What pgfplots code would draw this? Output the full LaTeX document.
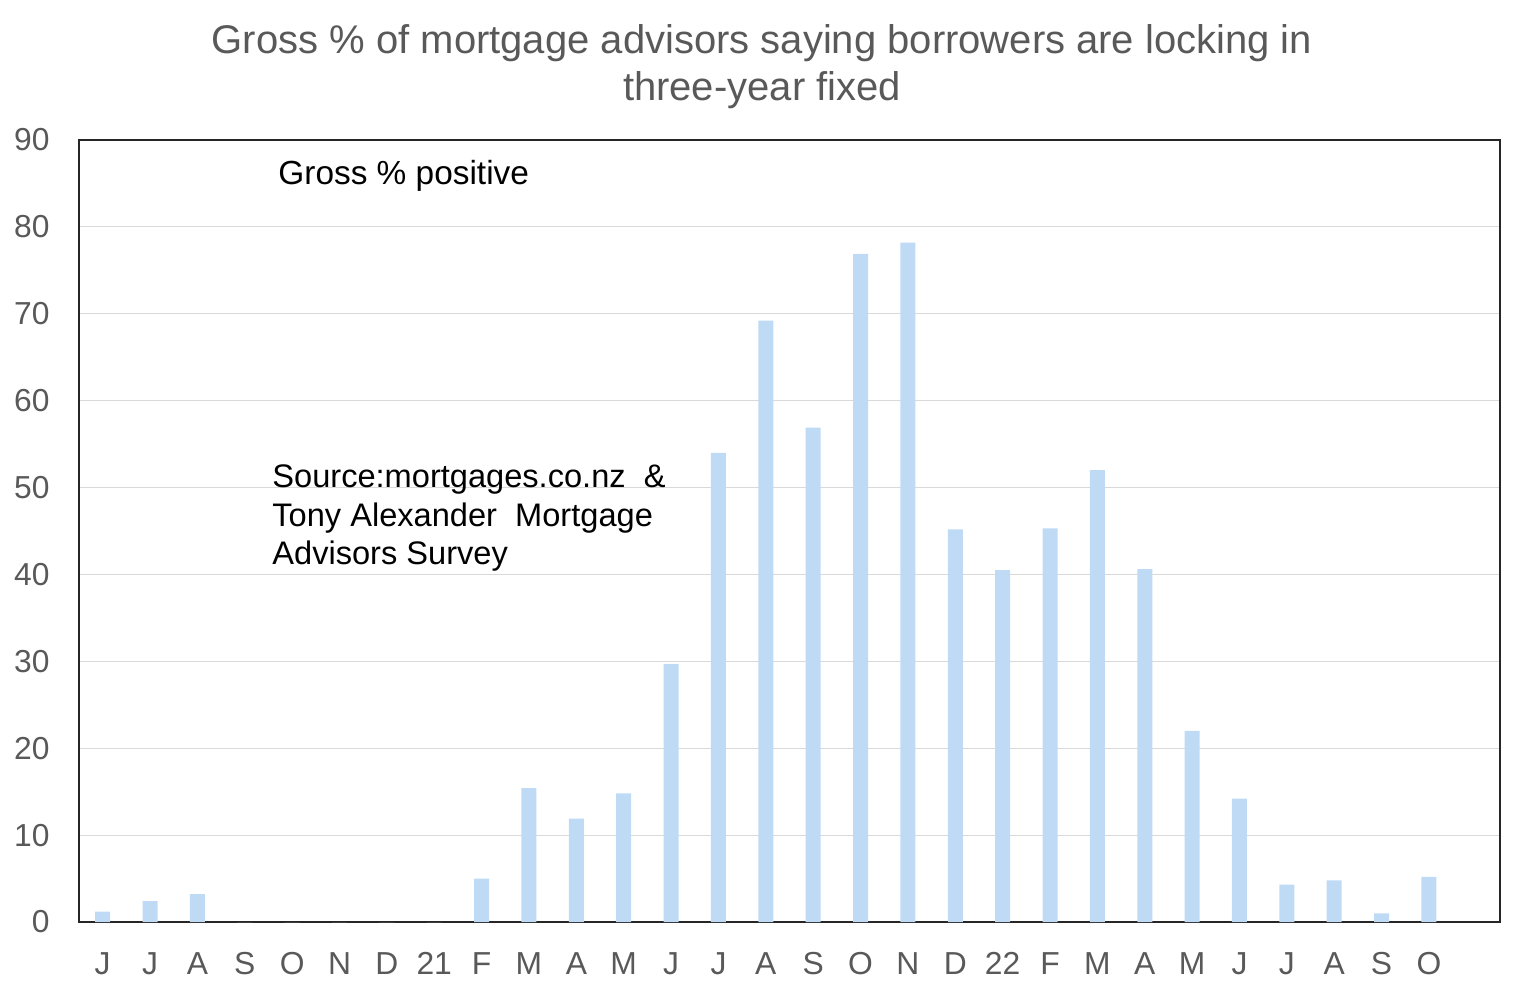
\documentclass[border=0pt]{standalone}
\usepackage{fontspec}
\setmainfont{Liberation Sans}
\usepackage{pgfplots}
\pgfplotsset{compat=1.18}
\definecolor{barblue}{RGB}{190,218,245}
\definecolor{txtgray}{RGB}{89,89,89}
\definecolor{gridgray}{RGB}{217,217,217}
\begin{document}
\begin{tikzpicture}
\useasboundingbox (-39.5pt,-36.5pt) rectangle (723pt,461pt);
\begin{axis}[
  anchor=south west, at={(0pt,0pt)},
  scale only axis, width=710.5pt, height=391pt,
  xmin=-0.5, xmax=29.5, ymin=0, ymax=90,
  ybar, bar width=7.5pt,
  xtick={0,...,28},
  xticklabels={J,J,A,S,O,N,D,21,F,M,A,M,J,J,A,S,O,N,D,22,F,M,A,M,J,J,A,S,O},
  ytick={0,10,...,90},
  /pgf/number format/assume math mode=true,
  major tick length=0pt,
  ymajorgrids, grid style={gridgray, line width=0.6pt},
  axis line style={black!85, line width=1pt},
  tick label style={font=\fontsize{15.9}{18}\selectfont, text=txtgray},
  xticklabel style={anchor=base, inner sep=0pt, yshift=-26.2pt},
  yticklabel style={anchor=east, inner sep=0pt, xshift=-14.5pt},
]
\addplot[draw=none, fill=barblue] coordinates {
(0,1.2) (1,2.4) (2,3.2) (3,0) (4,0) (5,0) (6,0) (7,0) (8,5.0) (9,15.4)
(10,11.9) (11,14.8) (12,29.7) (13,54.0) (14,69.2) (15,56.9) (16,76.9) (17,78.2) (18,45.2) (19,40.5)
(20,45.3) (21,52.0) (22,40.6) (23,22.0) (24,14.2) (25,4.3) (26,4.8) (27,1.0) (28,5.2)
};
\end{axis}
\node[font=\fontsize{20}{24}\selectfont, text=txtgray] at (341.5pt,439.5pt) {Gross \% of mortgage advisors saying borrowers are locking in};
\node[font=\fontsize{20}{24}\selectfont, text=txtgray] at (341.5pt,416pt) {three-year fixed};
\node[font=\fontsize{16.7}{19}\selectfont, anchor=west, inner sep=0pt] at (99.5pt,373pt) {Gross \% positive};
\node[font=\fontsize{16.3}{19}\selectfont, anchor=base west, inner sep=0pt] at (96.5pt,217pt) {Source:mortgages.co.nz\ \ \&};
\node[font=\fontsize{16.3}{19}\selectfont, anchor=base west, inner sep=0pt] at (96.5pt,197.5pt) {Tony Alexander\ \ Mortgage};
\node[font=\fontsize{16.3}{19}\selectfont, anchor=base west, inner sep=0pt] at (96.5pt,178.5pt) {Advisors Survey};
\end{tikzpicture}
\end{document}
